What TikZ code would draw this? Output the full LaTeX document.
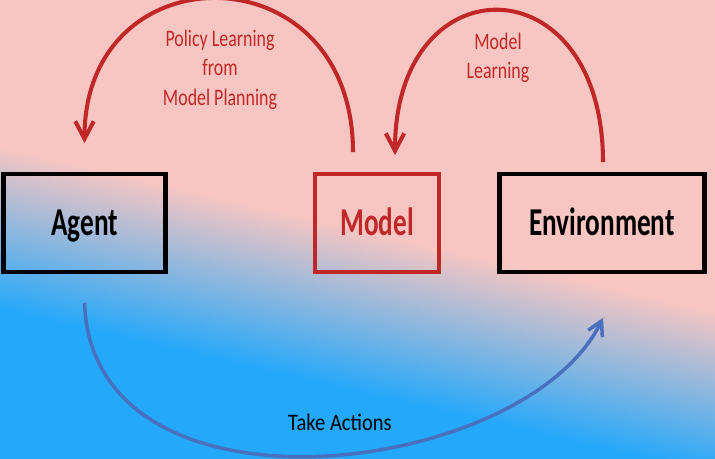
\documentclass[tikz,border=0pt]{standalone}
\usepackage{fontspec}
\setmainfont{Carlito}
\usetikzlibrary{arrows.meta,calc}
\definecolor{bgpink}{RGB}{248,198,194}
\definecolor{bgblue}{RGB}{36,168,250}
\definecolor{mred}{RGB}{192,40,40}
\definecolor{mblue}{RGB}{72,112,190}
\newcommand{\tallstack}[2]{\scalebox{1}[#1]{\begin{tabular}{@{}c@{}}#2\end{tabular}}}
\begin{document}
\begin{tikzpicture}[x=0.02cm, y=-0.02cm,
  box/.style={draw, line width=2.5pt, outer sep=0pt, minimum height=55.6pt,
    font=\fontsize{15.5}{18}\bfseries\selectfont, text height=16pt, text depth=1.3pt},
  lbl/.style={text=mred, font=\fontsize{10.2}{12.6}\selectfont},
  redarc/.style={mred, line width=2.3pt, -{Straight Barb[length=10pt, width=10.5pt]}},
  bluearc/.style={mblue, line width=2pt, -{Straight Barb[length=8pt, width=9pt]}}]
  \useasboundingbox (0,0) rectangle (715,458);
  % background
  \begin{scope}
    \clip (0,0) rectangle (715,458);
    \begin{scope}[transform canvas={rotate around={-13:(357,310)}}]
      \fill[bgpink] (-300,-600) rectangle (1100,231);
      \shade[top color=bgpink, bottom color=bgblue] (-300,230) rectangle (1100,390);
      \fill[bgblue] (-300,389) rectangle (1100,1100);
    \end{scope}
  \end{scope}

  \node[box, minimum width=92.4pt] (agent) at (84.5,223) {\scalebox{1}[1.45]{Agent}};
  \node[box, draw=mred, text=mred, minimum width=70.3pt] (model) at (377,223) {\scalebox{1}[1.45]{Model}};
  \node[box, minimum width=116.8pt] (env) at (602,223) {\scalebox{1}[1.45]{Environment}};

  \coordinate (polstart) at ($(model.north)+(-24,-22)$);
  \coordinate (polend) at ($(agent.north)+(0,-31)$);
  \coordinate (mlstart) at ($(env.north)+(1,-12)$);
  \coordinate (mlend) at ($(model.north)+(18,-19)$);
  \coordinate (actstart) at ($(agent.south)+(0,31)$);
  \coordinate (actend) at ($(env.south)+(1,46)$);

  \draw[redarc] (polstart) .. controls +(0,-203) and +(0,-194) .. (polend);
  \draw[redarc] (mlstart) .. controls +(0,-201) and +(0,-194) .. (mlend);
  \draw[bluearc] (actstart) .. controls +(8,228) and +(-78,160) .. (actend);

  \node[lbl] (pol) at (220,70) {\tallstack{1.32}{Policy Learning\\from\\Model Planning}};
  \node[lbl] (mlrn) at (498,58) {\tallstack{1.32}{Model\\Learning}};
  \node[font=\fontsize{11.7}{14.2}\selectfont] (act) at (340,425) {\tallstack{1.15}{Take Actions}};
\end{tikzpicture}
\end{document}
